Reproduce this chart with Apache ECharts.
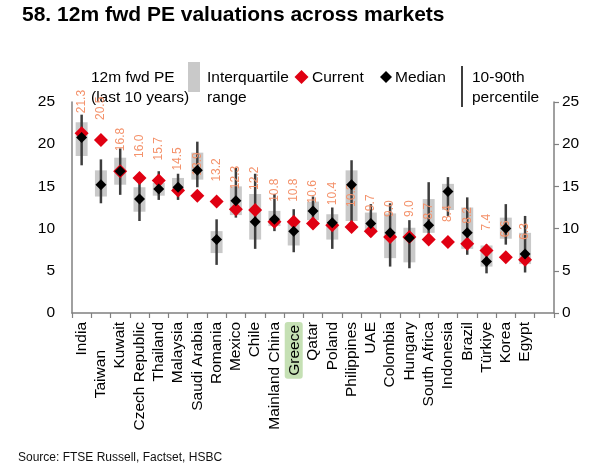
<!DOCTYPE html>
<html>
<head>
<meta charset="utf-8">
<script src="https://cdn.jsdelivr.net/npm/echarts@6/dist/echarts.min.js"></script>
<style>
  html, body { margin: 0; padding: 0; background: #fff; }
  #chart { width: 600px; height: 469px; }
</style>
</head>
<body>
<div id="chart"></div>
<script>
// markets, sorted by current 12m fwd PE
var countries = ['India', 'Taiwan', 'Kuwait', 'Czech Republic', 'Thailand', 'Malaysia', 'Saudi Arabia', 'Romania',
    'Mexico', 'Chile', 'Mainland China', 'Greece', 'Qatar', 'Poland', 'Philippines', 'UAE', 'Colombia', 'Hungary',
    'South Africa', 'Indonesia', 'Brazil', 'Türkiye', 'Korea', 'Egypt'];
var current = [21.3, 20.5, 16.8, 16.0, 15.7, 14.5, 13.9, 13.2, 12.3, 12.2, 10.8, 10.8, 10.6, 10.4, 10.2, 9.7, 9.0, 9.0, 8.7, 8.4, 8.2, 7.4, 6.6, 6.3];
var median = [20.8, 15.2, 16.8, 13.5, 14.7, 14.9, 16.9, 8.7, 13.3, 10.8, 11.1, 9.7, 12.1, 10.7, 15.2, 10.6, 9.5, 8.9, 10.4, 14.4, 9.5, 6.1, 10.0, 7.0];
var q1 = [18.6, 13.8, 15.2, 12.0, 13.9, 14.5, 15.8, 7.1, 11.6, 8.7, 10.3, 8.0, 11.0, 8.7, 10.9, 9.6, 6.5, 6.0, 9.5, 12.2, 7.6, 5.5, 8.8, 5.8];
var q3 = [22.6, 16.9, 18.4, 14.9, 15.4, 16.0, 19.0, 9.7, 15.0, 14.1, 12.1, 10.8, 13.2, 11.7, 16.9, 11.9, 11.8, 10.1, 13.5, 15.3, 12.5, 8.0, 11.3, 9.5];
var p10 = [17.5, 13.0, 14.0, 10.9, 13.4, 13.4, 14.9, 5.7, 11.3, 7.6, 9.7, 7.2, 10.6, 7.6, 10.2, 9.0, 5.5, 5.3, 9.4, 11.5, 6.9, 4.7, 8.1, 4.8];
var p90 = [23.5, 18.2, 19.5, 16.1, 16.8, 16.5, 20.3, 11.1, 17.2, 16.5, 14.1, 12.3, 13.8, 12.5, 18.1, 12.9, 13.0, 11.0, 15.5, 16.1, 13.7, 8.1, 12.9, 11.5];
var yTicks = [0, 5, 10, 15, 20, 25];

var FONT = 'Liberation Sans, Arial, sans-serif';

// one empty slot at the end, like the original
var axisCats = countries.concat(['']);

function diamond(cx, cy, r, color) {
    return {
        type: 'polygon',
        shape: { points: [[cx, cy - r], [cx + r, cy], [cx, cy + r], [cx - r, cy]] },
        style: { fill: color }
    };
}
function legendText(x, y, text) {
    return {
        type: 'text', left: x, top: y,
        style: { text: text, font: '15.5px ' + FONT, fill: '#000', lineHeight: 20 }
    };
}

var option = {
    animation: false,
    backgroundColor: '#fff',
    title: {
        text: '58. 12m fwd PE valuations across markets',
        left: 17,
        top: 0,
        textStyle: { fontFamily: FONT, fontSize: 21, fontWeight: 'bold', color: '#000' }
    },
    grid: { left: 72, right: 46, top: 102, bottom: 156 },
    xAxis: {
        type: 'category',
        data: axisCats,
        axisLine: { lineStyle: { color: '#808080', width: 1.5 } },
        axisTick: { show: true, length: 5, lineStyle: { color: '#808080', width: 1.2 } },
        axisLabel: {
            rotate: 90,
            interval: 0,
            margin: 9,
            fontFamily: FONT,
            fontSize: 15.5,
            color: '#000',
            formatter: function (v) {
                if (v === 'Greece') return '{g|' + v + '}';
                if (v === 'Taiwan') return '{tw|' + v + '}';
                return v;
            },
            rich: {
                g: { backgroundColor: '#c5e0b4', borderRadius: 3, padding: [2, 3, 0, 3], fontSize: 15.5, fontFamily: FONT, color: '#000' },
                tw: { padding: [0, 28, 0, 0], fontSize: 15.5, fontFamily: FONT, color: '#000' }
            }
        }
    },
    yAxis: [{
        type: 'value', min: 0, max: 25, interval: 5, position: 'left',
        axisLine: { show: true, lineStyle: { color: '#808080', width: 1.5 } },
        axisTick: { show: false },
        splitLine: { show: false },
        axisLabel: { margin: 17, fontFamily: FONT, fontSize: 15.5, color: '#000' }
    }, {
        type: 'value', min: 0, max: 25, interval: 5, position: 'right',
        axisLine: { show: true, lineStyle: { color: '#808080', width: 1.5 } },
        axisTick: { show: true, length: 5, lineStyle: { color: '#808080', width: 1.2 } },
        splitLine: { show: false },
        axisLabel: { margin: 8, fontFamily: FONT, fontSize: 15.5, color: '#000' }
    }],
    series: [
        {
            // interquartile box + 10-90th percentile whisker
            type: 'custom',
            name: 'range',
            data: countries.map(function (c, i) { return [i, p10[i], p90[i], q1[i], q3[i]]; }),
            renderItem: function (params, api) {
                var x = api.value(0);
                var lo = api.coord([x, api.value(1)]);
                var hi = api.coord([x, api.value(2)]);
                var a = api.coord([x, api.value(3)]);
                var b = api.coord([x, api.value(4)]);
                var w = api.size([1, 0])[0] * 0.62;
                return {
                    type: 'group',
                    children: [{
                        type: 'rect',
                        shape: { x: b[0] - w / 2, y: b[1], width: w, height: a[1] - b[1] },
                        style: { fill: '#c9c9c9' }
                    }, {
                        type: 'line',
                        shape: { x1: lo[0], y1: lo[1], x2: hi[0], y2: hi[1] },
                        style: { stroke: '#3d3d3d', lineWidth: 2.5 }
                    }]
                };
            },
            z: 2
        },
        {
            type: 'scatter',
            name: 'Current',
            data: current,
            symbol: 'diamond',
            symbolSize: 14,
            itemStyle: { color: '#e00012', opacity: 1 },
            label: {
                show: true,
                position: 'top',
                distance: 13,
                rotate: 90,
                align: 'left',
                verticalAlign: 'middle',
                fontFamily: FONT,
                fontSize: 12,
                color: '#f4926b',
                formatter: function (p) { return p.value.toFixed(1); }
            },
            z: 3
        },
        {
            type: 'scatter',
            name: 'Median',
            data: median,
            symbol: 'diamond',
            symbolSize: 11,
            itemStyle: { color: '#000', opacity: 1 },
            z: 4
        }
    ],
    graphic: [
        legendText(91, 68, '12m fwd PE\n(last 10 years)'),
        { type: 'rect', shape: { x: 188, y: 62, width: 12, height: 30 }, style: { fill: '#c9c9c9' } },
        legendText(207, 68, 'Interquartile\nrange'),
        diamond(301.5, 77, 7, '#e00012'),
        legendText(312, 68, 'Current'),
        diamond(386, 77, 6, '#000'),
        legendText(395, 68, 'Median'),
        { type: 'line', shape: { x1: 462, y1: 66, x2: 462, y2: 107 }, style: { stroke: '#3d3d3d', lineWidth: 2 } },
        legendText(472, 68, '10-90th\npercentile'),
        {
            type: 'text', left: 18, top: 452,
            style: { text: 'Source: FTSE Russell, Factset, HSBC', font: '12px ' + FONT, fill: '#111' }
        }
    ]
};

var myChart = echarts.init(document.getElementById('chart'));
myChart.setOption(option);
</script>
</body>
</html>
